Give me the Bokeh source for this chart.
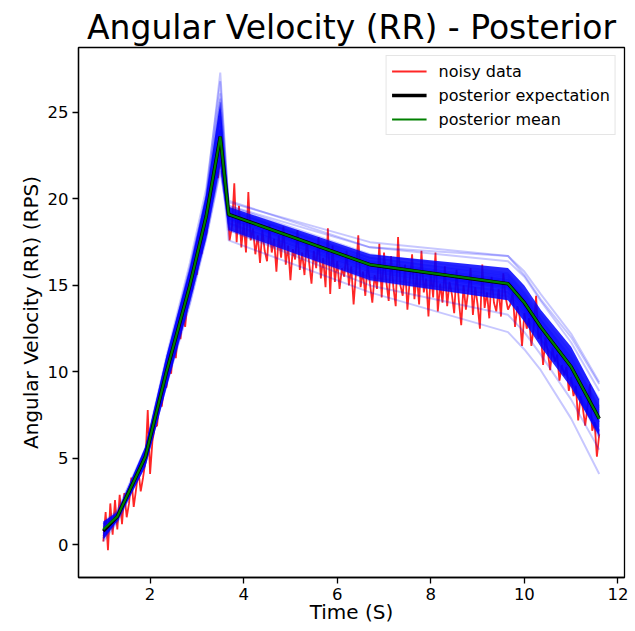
from bokeh.plotting import figure
from bokeh.models import Range1d, FixedTicker, Legend, LegendItem
from bokeh.embed import file_html
from bokeh.resources import INLINE

# ---------------- data ----------------
sample_start = 1.0
sample_step = 0.05
noisy_velocity = [
    0.2, 1.9, -0.3, 2.4, 0.6, 2.6, 0.9,
    2.9, 1.2, 3.0, 1.6, 2.4, 3.9, 2.2, 3.2, 4.3, 3.1, 3.9, 4.8,
    7.8, 4.1, 6.0, 6.8, 6.9, 8.4, 8.0, 9.2, 9.1,
    10.3, 9.9, 11.6, 10.8, 12.4, 11.9, 13.5, 12.6, 14.1, 14.6,
    14.7, 16.3, 15.6, 17.2, 16.8, 18.6, 17.9,
    19.1, 20.3, 20.6, 21.9, 21.2, 22.6,
    21.3, 20.6, 19.9, 17.6,
    18.4, 20.9, 17.5, 19.6, 17.2, 18.6, 16.9, 20.4, 17.6, 18.3,
    16.8, 17.9, 16.3, 18.2, 17.0, 16.4, 18.5, 16.9, 17.7, 15.8,
    17.9, 16.6, 18.4, 16.2, 17.3, 15.3, 17.1, 16.5, 18.2, 15.9,
    16.9, 15.6, 17.6, 16.3, 15.1, 17.0, 16.0, 17.8, 15.4, 16.6,
    14.9, 18.3, 14.5, 17.3, 15.2, 16.4, 14.8, 16.0, 15.5, 17.0,
    15.0, 16.1, 13.9, 15.7, 17.9, 14.9, 15.8, 14.4, 16.3, 15.1,
    14.0, 15.6, 14.8, 17.4, 14.3, 16.9, 15.2, 14.1, 16.7, 14.9,
    13.8, 17.8, 15.0, 14.4, 16.2, 13.6, 15.3, 16.8, 14.2, 15.7,
    13.9, 17.0, 14.6, 15.4, 13.2, 15.8, 14.3, 16.9, 13.5, 15.1,
    14.0, 16.1, 13.8, 15.2, 14.5, 13.4, 15.9, 14.1, 12.7, 15.0,
    13.6, 14.7, 16.0, 13.3, 14.9, 13.9, 12.5, 16.2, 13.7, 14.6,
    13.1, 15.5, 14.0, 13.5, 14.8, 13.2, 15.7, 14.3, 13.6,
    13.9, 14.6, 12.6, 13.8, 13.2, 11.5, 13.4, 12.5, 13.1, 11.5,
    12.6, 14.4, 11.9, 12.3, 10.4, 12.0, 11.2, 10.1, 11.4, 10.6,
    11.0, 9.5, 10.4, 9.8, 10.3, 8.9, 9.7, 8.6, 9.2, 7.2,
    8.6, 7.9, 6.9, 8.0, 9.3, 6.6, 7.1, 5.1, 6.4,
]
time_s = [round(sample_start + sample_step * i, 2) for i in range(len(noisy_velocity))]

knot_time = [1.0, 1.3, 1.9, 2.35, 2.85, 3.2, 3.5, 3.68, 6.7, 9.65, 10.0, 10.35, 11.0, 11.6]
posterior_expectation = [0.8, 1.65, 5.1, 10.0, 15.0, 19.0, 23.6, 19.1, 16.2, 15.1, 14.0, 12.6, 10.3, 7.3]
posterior_mean = [0.9, 1.65, 5.1, 10.0, 15.0, 19.0, 23.6, 19.1, 16.2, 15.1, 14.0, 12.6, 10.3, 7.3]

# dense core of the posterior sample cloud
posterior_core_upper = [1.35, 1.9, 5.7, 10.95, 16.0, 20.3, 25.6, 19.55, 16.8, 16.0, 15.0, 13.6, 11.45, 8.4]
posterior_core_lower = [0.3, 1.4, 4.5, 9.05, 14.0, 17.7, 21.9, 18.2, 15.3, 14.15, 12.9, 11.45, 9.1, 6.3]

posterior_samples = [
    [0.7, 1.6, 5.2, 10.2, 15.3, 19.4, 23.9, 19.0, 16.1, 15.0, 13.9, 12.5, 10.2, 7.1],
    [1.1, 1.8, 5.4, 10.6, 15.8, 20.0, 24.6, 19.3, 16.4, 15.3, 14.2, 12.9, 10.6, 7.7],
    [0.5, 1.5, 4.9, 9.6, 14.4, 18.3, 22.8, 18.9, 16.0, 14.9, 13.8, 12.3, 9.9, 6.8],
    [0.9, 1.7, 5.3, 10.4, 15.6, 19.7, 25.2, 19.2, 16.3, 15.2, 14.1, 12.7, 10.4, 7.5],
    [1.2, 1.9, 4.8, 9.4, 14.2, 18.0, 22.3, 18.8, 15.8, 14.7, 13.6, 12.2, 9.8, 6.6],
    [0.8, 1.6, 5.5, 10.7, 16.0, 20.2, 26.1, 19.4, 16.5, 15.4, 14.3, 13.0, 10.8, 7.9],
    [0.4, 1.4, 4.7, 9.2, 13.9, 17.7, 21.6, 18.6, 15.6, 14.5, 13.4, 11.9, 9.4, 6.2],
    [1.0, 1.7, 5.1, 10.1, 15.1, 19.1, 24.2, 19.1, 16.2, 15.1, 14.0, 12.6, 10.3, 7.3],
    [1.3, 2.0, 5.6, 10.9, 16.3, 20.6, 26.8, 19.6, 16.8, 15.7, 14.6, 13.3, 11.1, 8.4],
    [0.6, 1.5, 5.0, 9.8, 14.7, 18.6, 23.2, 19.0, 16.0, 14.9, 13.8, 12.4, 10.0, 6.9],
    [0.9, 1.6, 5.1, 10.0, 15.0, 19.0, 23.6, 19.9, 17.2, 16.7, 15.6, 14.2, 12.0, 9.3],
    [0.5, 1.5, 4.8, 9.5, 14.3, 18.2, 22.5, 17.6, 14.6, 12.3, 11.3, 10.1, 7.3, 4.1],
    [1.0, 1.7, 5.3, 10.3, 15.4, 19.5, 24.0, 19.8, 17.5, 16.7, 15.8, 14.5, 12.2, 9.4],
    [0.8, 1.6, 5.2, 10.1, 15.2, 19.2, 23.4, 19.6, 17.2, 16.4, 15.5, 14.1, 11.7, 8.9],
    [0.6, 1.5, 4.9, 9.7, 14.6, 18.5, 22.9, 18.2, 15.0, 13.3, 12.3, 11.0, 8.4, 5.5],
    [1.1, 1.8, 5.4, 10.5, 15.7, 19.8, 24.8, 19.3, 16.6, 15.6, 14.5, 13.1, 10.9, 8.0],
    [0.7, 1.5, 5.0, 9.8, 14.65, 18.6, 22.9, 18.9, 15.9, 14.8, 13.7, 12.2, 9.7, 6.5],
    [1.0, 1.7, 5.5, 10.7, 16.0, 20.2, 27.3, 19.5, 16.6, 15.5, 14.4, 13.0, 10.7, 7.8],
    [0.2, 1.3, 4.7, 9.3, 14.0, 17.8, 21.8, 18.6, 15.8, 14.6, 13.5, 12.0, 9.5, 6.3],
    [1.2, 1.9, 5.4, 10.6, 15.8, 20.0, 25.6, 19.4, 16.4, 15.3, 14.2, 12.8, 10.5, 7.6],
    [0.6, 1.5, 5.0, 9.9, 14.8, 18.8, 23.0, 18.7, 15.7, 14.6, 13.5, 12.1, 9.7, 6.6],
    [0.9, 1.6, 5.1, 9.9, 14.9, 18.9, 23.3, 18.8, 15.9, 14.8, 13.7, 12.3, 10.0, 7.0],
    [1.0, 1.7, 5.3, 10.35, 15.5, 19.6, 25.0, 19.0, 16.1, 15.0, 13.9, 12.5, 10.2, 7.2],
    [0.5, 1.5, 4.9, 9.6, 14.4, 18.3, 22.6, 18.5, 15.5, 14.4, 13.3, 11.9, 9.5, 6.4],
    [1.0, 1.7, 5.2, 10.2, 15.3, 19.4, 24.0, 18.35, 15.45, 14.35, 13.25, 11.85, 9.55, 6.55],
    [0.7, 1.5, 5.0, 9.8, 14.7, 18.6, 22.9, 18.2, 15.3, 14.2, 13.1, 11.7, 9.4, 6.4],
    [1.2, 1.8, 5.4, 10.6, 15.8, 20.0, 25.8, 19.2, 16.3, 15.2, 14.1, 12.7, 10.4, 7.4],
    [0.4, 1.4, 4.8, 9.4, 14.2, 18.0, 21.9, 18.9, 16.0, 14.9, 13.8, 12.4, 10.1, 7.1],
]

x_ticks = [2, 4, 6, 8, 10, 12]
y_ticks = [0, 5, 10, 15, 20, 25]

FONT = "DejaVu Sans"

# ---------------- figure ----------------
p = figure(
    width=635, height=631,
    x_range=Range1d(0.47, 12.14), y_range=Range1d(-1.88, 28.75),
    output_backend="svg", toolbar_location=None,
    title="Angular Velocity (RR) - Posterior",
    min_border_left=78, min_border_right=11, min_border_top=47, min_border_bottom=54,
)
p.background_fill_color = "white"
p.border_fill_color = "white"
p.grid.visible = False
p.outline_line_color = "black"
p.outline_line_width = 1.3

p.title.text_font = FONT
p.title.text_font_size = "33px"
p.title.text_font_style = "normal"
p.title.text_color = "black"
p.title.align = "center"
p.title.standoff = 2

for ax in (p.xaxis[0], p.yaxis[0]):
    ax.axis_line_color = "black"
    ax.axis_line_width = 1.3
    ax.major_tick_line_color = "black"
    ax.major_tick_line_width = 1.3
    ax.major_tick_out = 6
    ax.major_tick_in = 0
    ax.minor_tick_line_color = None
    ax.major_label_text_font = FONT
    ax.major_label_text_font_size = "16.5px"
    ax.major_label_text_color = "black"
    ax.major_label_standoff = 4
    ax.axis_label_text_font = FONT
    ax.axis_label_text_font_size = "20px"
    ax.axis_label_text_font_style = "normal"
    ax.axis_label_text_color = "black"

p.xaxis[0].axis_label_standoff = -3
p.yaxis[0].axis_label_standoff = 2

p.xaxis.ticker = FixedTicker(ticks=x_ticks)
p.yaxis.ticker = FixedTicker(ticks=y_ticks)
p.xaxis.axis_label = "Time (S)"
p.yaxis.axis_label = "Angular Velocity (RR) (RPS)"

# noisy data
r_noisy = p.line(time_s, noisy_velocity, line_color="red", line_width=1.8, line_alpha=0.85)

# posterior samples: faint individual draws + dense core
for s in posterior_samples:
    p.line(knot_time, s, line_color="blue", line_width=2.0, line_alpha=0.22)
p.varea(x=knot_time, y1=posterior_core_lower, y2=posterior_core_upper,
        fill_color="blue", fill_alpha=0.85)

r_exp = p.line(knot_time, posterior_expectation, line_color="black", line_width=3.5)
r_mean = p.line(knot_time, posterior_mean, line_color="green", line_width=2.2)

legend = Legend(
    items=[
        LegendItem(label="noisy data", renderers=[r_noisy]),
        LegendItem(label="posterior expectation", renderers=[r_exp]),
        LegendItem(label="posterior mean", renderers=[r_mean]),
    ],
    location="top_right",
    margin=8,
    padding=5,
    spacing=4,
    glyph_width=35,
    glyph_height=20,
    label_standoff=12,
    label_text_font=FONT,
    label_text_font_size="16px",
    label_text_color="black",
    border_line_color="#cccccc",
    border_line_width=1,
    background_fill_alpha=0.8,
)
p.add_layout(legend)

open("out.html", "w").write(file_html(p, INLINE))
